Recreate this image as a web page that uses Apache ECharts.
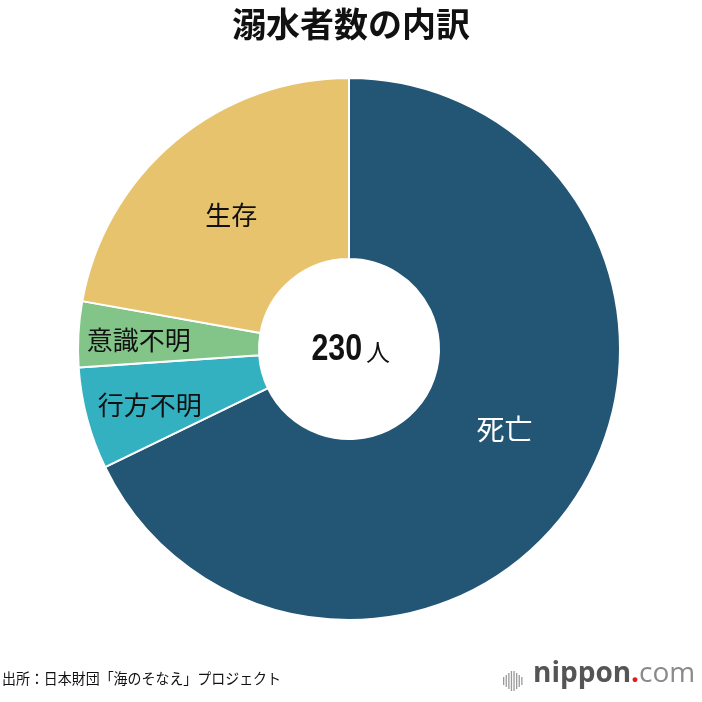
<!DOCTYPE html>
<html><head><meta charset="utf-8">
<script src="https://cdn.jsdelivr.net/npm/echarts@6/dist/echarts.min.js"></script>
<style>html,body{margin:0;padding:0;background:#fff}#c{width:702px;height:702px}</style>
</head><body><div id="c"></div>
<script>
const categories = ['死亡', '行方不明', '意識不明', '生存'];
const values = [156, 14, 9, 51];
const unitLabel = '人';
const titleText = '溺水者数の内訳';
const sourceText = '出所：日本財団「海のそなえ」プロジェクト';

const colors = ['#235574', '#34B1C1', '#83C589', '#E7C36E'];
const labelColors = ['#ffffff', '#111111', '#111111', '#111111'];
const labelSizes = [28, 26, 26, 26];
const labelOffsets = [[0, -17], [-22, 9], [-27, 1], [0, 7]];

const total = values.reduce((a, b) => a + b, 0);
const chart = echarts.init(document.getElementById('c'), null, {renderer: 'canvas'});
const cjk = '"Noto Sans CJK JP", "Noto Sans", sans-serif';

const barHeights = [8, 12, 16, 20, 20, 16, 12, 8];
const iconBars = barHeights.map((h, i) => ({
  type: 'rect', shape: {x: 503 + i * 2.6, y: 681 - h / 2, width: 1.3, height: h},
  style: {fill: '#9a9a9a'}
}));

chart.setOption({
  animation: false,
  backgroundColor: '#ffffff',
  title: {
    text: titleText, left: 'center', top: 2,
    textStyle: {fontFamily: cjk, fontSize: 34, fontWeight: 'bold', color: '#111'}
  },
  series: [{
    type: 'pie',
    center: [349, 349],
    radius: [90, 271],
    startAngle: 90,
    clockwise: true,
    avoidLabelOverlap: false,
    itemStyle: {borderColor: '#ffffff', borderWidth: 2},
    label: {show: true, position: 'inside', fontFamily: cjk, fontSize: 26, formatter: '{b}'},
    labelLine: {show: false},
    emphasis: {disabled: true},
    data: categories.map((n, i) => ({
      name: n, value: values[i],
      itemStyle: {color: colors[i]},
      label: {color: labelColors[i], offset: labelOffsets[i], fontSize: labelSizes[i]}
    }))
  }],
  graphic: [
    {
      type: 'text', x: 362, y: 350, scaleX: 0.82,
      style: {
        x: 0, y: 0, align: 'right', verticalAlign: 'middle',
        text: String(total),
        fontFamily: '"Liberation Sans", Arial, sans-serif', fontSize: 37, fontWeight: 'bold', fill: '#111'
      }
    },
    {
      type: 'text', x: 366, y: 352,
      style: {
        x: 0, y: 0, align: 'left', verticalAlign: 'middle',
        text: unitLabel, fontFamily: cjk, fontSize: 24, fill: '#111'
      }
    },
    {
      type: 'text', x: 2, y: 671, scaleX: 0.93,
      style: {x: 0, y: 0, text: sourceText, fontFamily: cjk, fontSize: 15, fill: '#111'}
    },
    {
      type: 'text', left: 533, top: 660,
      style: {
        text: '{a|nippon}{b|.}{c|com}',
        rich: {
          a: {fontFamily: '"Open Sans", sans-serif', fontSize: 28, fontWeight: 'bold', fill: '#555'},
          b: {fontFamily: '"Open Sans", sans-serif', fontSize: 28, fontWeight: 'bold', fill: '#e02020'},
          c: {fontFamily: '"Open Sans", sans-serif', fontSize: 28, fill: '#8a8a8a'}
        }
      }
    }
  ].concat(iconBars)
});
</script></body></html>
